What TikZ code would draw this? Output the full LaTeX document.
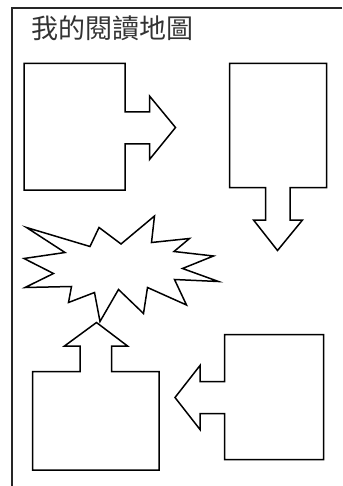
\documentclass[tikz,border=0pt]{standalone}
\usepackage{fontspec}
\newfontfamily\cjk{Noto Sans CJK TC}
\usepackage{tikz}
\usetikzlibrary{calc,positioning}

\begin{document}
\begin{tikzpicture}[x=1pt,y=-1pt,line join=miter]
	\tikzstyle{frame} = [draw, line width=2pt, color=black!85]
	\tikzstyle{outline} = [draw, line width=1.5pt, fill=white]
	\tikzstyle{title} = [anchor=base west, inner sep=0pt, font=\cjk\fontsize{27}{27}\selectfont, text=black!80]
	
	\useasboundingbox (0,0) rectangle (342,486);
	
	% page frame
	\draw [frame] (342,8) -- (11.5,8) -- (11.5,486);
	\node [title] (head) at (31,39) {我的閱讀地圖};
	
	% box with arrow to the right
	\draw [outline] (24,63.5) -- (125,63.5) -- (125,112) -- (149.5,112) -- (149.5,96)
		-- (175.5,127.5) -- (149.5,159.5) -- (149.5,144) -- (125,144) -- (125,190)
		-- (24,190) -- cycle;
	
	% box with arrow down
	\draw [outline] (229.5,63.5) -- (326.5,63.5) -- (326.5,187.5) -- (290,187.5) -- (290,220)
		-- (302.5,220) -- (277.5,250.5) -- (253.5,220) -- (265.5,220) -- (265.5,187.5)
		-- (229.5,187.5) -- cycle;
	
	% burst
	\draw [outline] (26.5,227.5) -- (90,246.5) -- (99,227.5) -- (121,244) -- (154.5,216)
		-- (151.5,242.5) -- (189.5,238.5) -- (174,251.5) -- (213.5,256) -- (182.5,268.5)
		-- (218.5,281.5) -- (174.5,279.5) -- (186.5,305) -- (147.5,287.5) -- (143.5,313.5)
		-- (118.5,289.5) -- (100,321.5) -- (94.5,292.5) -- (68.5,302.5) -- (71.5,286.5)
		-- (25,287.5) -- (53.5,273.5) -- (24,258.5) -- (65,252.5) -- cycle;
	
	% box with arrow up
	\draw [outline] (32.5,371.5) -- (80,371.5) -- (80,346) -- (64.5,346) -- (96.5,322.5)
		-- (127.5,346) -- (111.5,346) -- (111.5,371.5) -- (159,371.5) -- (159,470)
		-- (32.5,470) -- cycle;
	
	% box with arrow to the left
	\draw [outline] (224.5,334.5) -- (323.5,334.5) -- (323.5,459.5) -- (224.5,459.5) -- (224.5,413.5)
		-- (200,413.5) -- (200,429.5) -- (175,397.5) -- (200,365.5) -- (200,381.5)
		-- (224.5,381.5) -- cycle;
	
\end{tikzpicture}
\end{document}
